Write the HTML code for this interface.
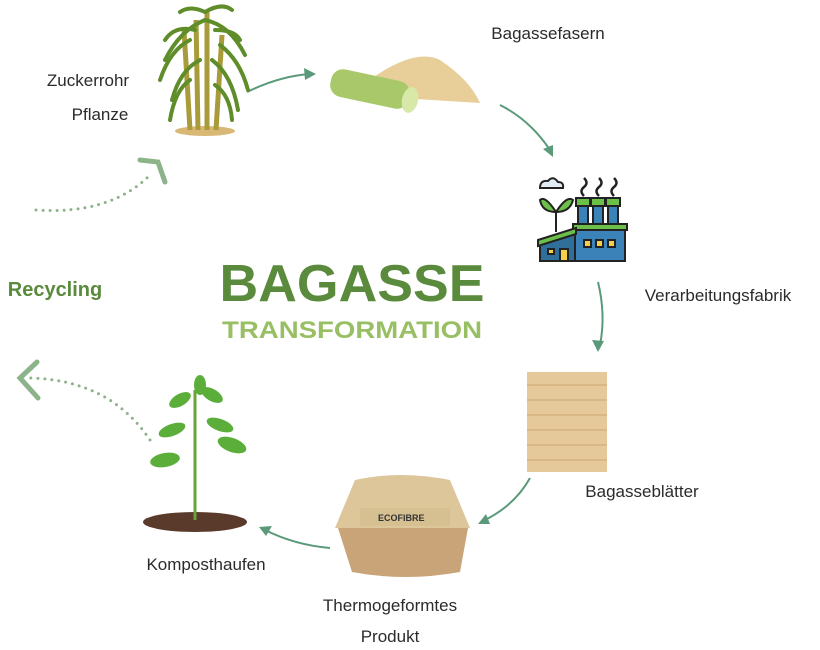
<!DOCTYPE html>
<html><head><meta charset="utf-8"><style>
html,body{margin:0;padding:0;background:#fff;width:820px;height:650px;overflow:hidden}
svg{display:block}
text{font-family:"Liberation Sans",sans-serif}
</style></head><body>
<svg width="820" height="650" viewBox="0 0 820 650">
<text x="352" y="301" text-anchor="middle" font-size="52" font-weight="bold" fill="#5a8a3c" textLength="265" lengthAdjust="spacingAndGlyphs">BAGASSE</text>
<text x="352" y="338" text-anchor="middle" font-size="24" font-weight="bold" fill="#98bf63" textLength="260" lengthAdjust="spacingAndGlyphs">TRANSFORMATION</text>

<g font-size="17" fill="#2b2b2b">
<text x="88" y="86" text-anchor="middle">Zuckerrohr</text>
<text x="100" y="120" text-anchor="middle">Pflanze</text>
<text x="548" y="39" text-anchor="middle">Bagassefasern</text>
<text x="718" y="301" text-anchor="middle">Verarbeitungsfabrik</text>
<text x="642" y="497" text-anchor="middle">Bagasseblätter</text>
<text x="390" y="611" text-anchor="middle">Thermogeformtes</text>
<text x="390" y="642" text-anchor="middle">Produkt</text>
<text x="206" y="570" text-anchor="middle">Komposthaufen</text>
</g>
<text x="55" y="296" text-anchor="middle" font-size="20" font-weight="bold" fill="#5a8a3c">Recycling</text>

<g stroke="#5a9a7a" stroke-width="2" fill="none">
<path d="M247 92 Q280 76 310 74"/>
<path d="M500 105 Q530 120 550 150"/>
<path d="M598 282 Q606 315 600 345"/>
<path d="M530 478 Q515 505 485 520"/>
<path d="M330 548 Q295 545 265 530"/>
</g>
<g fill="#5a9a7a">
<polygon points="316,74 304,68 305,80"/>
<polygon points="553,157 543,149 553,145"/>
<polygon points="598,352 592,340 604,341"/>
<polygon points="478,524 486,514 490,524"/>
<polygon points="259,527 272,526 266,536"/>
</g>
<g stroke="#8db38a" stroke-width="3" fill="none" stroke-linecap="round">
<path d="M36 210 Q110 215 150 175" stroke-dasharray="0 7"/>
<path d="M140 160 L158 162 L165 182" stroke-width="5"/>
<path d="M150 440 Q110 380 30 378" stroke-dasharray="0 7"/>
<path d="M37 362 L20 378 L38 398" stroke-width="5"/>
</g>

<g>
<ellipse cx="205" cy="131" rx="30" ry="5" fill="#d9b876"/>
<g stroke="#a99a3a" stroke-width="5"><line x1="190" y1="130" x2="184" y2="30"/><line x1="198" y1="130" x2="196" y2="20"/><line x1="207" y1="130" x2="207" y2="10"/><line x1="216" y1="130" x2="222" y2="35"/></g>
<g stroke="#5f8d2a" stroke-width="4" fill="none" stroke-linecap="round">
<path d="M205 20 Q180 30 165 60"/><path d="M205 20 Q230 25 245 55"/><path d="M190 40 Q170 50 160 80"/><path d="M220 45 Q240 60 248 90"/><path d="M200 60 Q180 70 172 100"/><path d="M212 60 Q232 75 238 110"/><path d="M205 12 Q190 5 180 12"/><path d="M205 12 Q222 2 232 10"/>
<path d="M195 30 Q175 25 165 40"/><path d="M215 30 Q235 30 240 40"/><path d="M190 80 Q175 90 170 120"/><path d="M215 85 Q230 95 232 120"/>
</g>
</g>

<path d="M350 95 Q410 45 440 60 Q470 80 480 103 Z" fill="#e8cf9a"/>
<rect x="330" y="75" width="80" height="28" rx="12" fill="#a8c86a" transform="rotate(12 370 89)"/>
<ellipse cx="410" cy="100" rx="8" ry="13" fill="#d8e8a8" transform="rotate(12 410 100)"/>

<g stroke="#222" stroke-width="2">
<rect x="578" y="205" width="10" height="22" fill="#3b82b8"/>
<rect x="593" y="205" width="10" height="22" fill="#3b82b8"/>
<rect x="608" y="205" width="10" height="22" fill="#3b82b8"/>
<rect x="576" y="198" width="14" height="8" fill="#6cc04a"/>
<rect x="591" y="198" width="14" height="8" fill="#6cc04a"/>
<rect x="606" y="198" width="14" height="8" fill="#6cc04a"/>
<rect x="575" y="227" width="50" height="34" fill="#3b82b8"/>
<rect x="573" y="224" width="54" height="6" fill="#6cc04a"/>
<polygon points="540,243 575,232 575,261 540,261" fill="#2f6f9a"/>
<polygon points="538,240 576,228 576,234 538,246" fill="#6cc04a"/>
<rect x="548" y="249" width="6" height="5" fill="#f5d04a"/>
<rect x="560" y="249" width="8" height="12" fill="#f5d04a"/>
<rect x="584" y="240" width="7" height="7" fill="#f5d04a"/>
<rect x="596" y="240" width="7" height="7" fill="#f5d04a"/>
<rect x="608" y="240" width="7" height="7" fill="#f5d04a"/>
<path d="M556 232 L556 210" fill="none"/>
<path d="M556 212 Q545 195 540 200 Q542 212 556 212Z" fill="#6cc04a"/>
<path d="M556 212 Q567 195 573 200 Q570 212 556 212Z" fill="#6cc04a"/>
<path d="M540 188 Q540 180 548 181 Q553 175 558 182 Q564 182 563 188 Z" fill="#e2edf3"/>
<path d="M584 196 q-5 -5 0 -9 q5 -4 0 -9" fill="none" stroke-width="2.5"/>
<path d="M599 196 q-5 -5 0 -9 q5 -4 0 -9" fill="none" stroke-width="2.5"/>
<path d="M614 196 q-5 -5 0 -9 q5 -4 0 -9" fill="none" stroke-width="2.5"/>
</g>

<rect x="527" y="372" width="80" height="100" fill="#e6c99a"/>
<g stroke="#c9a874" stroke-width="1">
<line x1="527" y1="385" x2="607" y2="385"/><line x1="527" y1="400" x2="607" y2="400"/><line x1="527" y1="415" x2="607" y2="415"/><line x1="527" y1="430" x2="607" y2="430"/><line x1="527" y1="445" x2="607" y2="445"/><line x1="527" y1="460" x2="607" y2="460"/>
</g>

<path d="M335 528 L355 480 Q400 470 450 480 L470 528 Z" fill="#dcc69a"/>
<path d="M338 528 L468 528 L460 572 Q405 582 352 572 Z" fill="#c9a478"/>
<rect x="360" y="508" width="90" height="18" fill="#d6c092"/>
<text x="378" y="521" font-size="9" font-weight="bold" fill="#333">ECOFIBRE</text>

<ellipse cx="195" cy="522" rx="52" ry="10" fill="#5a3a2a"/>
<line x1="195" y1="520" x2="195" y2="390" stroke="#6aa33a" stroke-width="3"/>
<g fill="#5cae3a">
<ellipse cx="180" cy="400" rx="12" ry="6" transform="rotate(-30 180 400)"/>
<ellipse cx="212" cy="395" rx="12" ry="6" transform="rotate(30 212 395)"/>
<ellipse cx="172" cy="430" rx="14" ry="6" transform="rotate(-20 172 430)"/>
<ellipse cx="220" cy="425" rx="14" ry="6" transform="rotate(20 220 425)"/>
<ellipse cx="165" cy="460" rx="15" ry="7" transform="rotate(-10 165 460)"/>
<ellipse cx="232" cy="445" rx="15" ry="7" transform="rotate(20 232 445)"/>
<ellipse cx="200" cy="385" rx="6" ry="10"/>
</g>
</svg>
</body></html>
